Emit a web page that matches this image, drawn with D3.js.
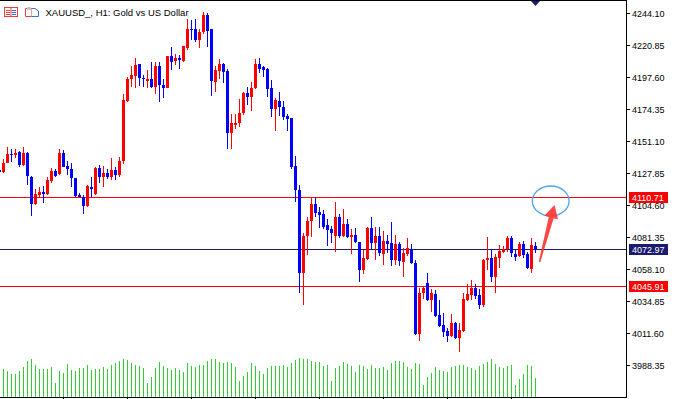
<!DOCTYPE html>
<html><head><meta charset="utf-8">
<script src="https://cdn.jsdelivr.net/npm/d3@7"></script>
<style>html,body{margin:0;padding:0;background:#fff;overflow:hidden}</style>
</head><body>
<svg id="c" width="679" height="399"></svg>
<script>
// ---------- data ----------
const chartTitle = "XAUUSD_, H1:  Gold vs US Dollar";
const firstBar = -1; // first (partially visible) bar index
const opens = [4130.1,4128.7,4135.4,4141.8,4141.3,4143.2,4134.0,4142.7,4125.3,4105.4,4111.9,4114.1,4112.7,4122.3,4129.2,4127.2,4142.3,4133.0,4131.1,4124.1,4111.7,4110.7,4103.9,4118.0,4112.7,4131.4,4124.8,4128.2,4125.3,4130.1,4126.7,4136.7,4180.3,4196.3,4198.5,4207.2,4197.1,4194.9,4196.3,4190.5,4205.8,4192.0,4189.8,4213.1,4209.4,4211.6,4209.4,4218.9,4232.7,4232.7,4224.7,4230.5,4242.9,4232.7,4194.1,4202.1,4207.2,4202.1,4157.0,4162.9,4164.3,4171.6,4186.1,4183.2,4189.8,4207.2,4205.1,4203.6,4189.8,4174.5,4180.3,4176.0,4169.4,4168.0,4133.0,4115.6,4055.2,4082.1,4093.0,4105.4,4099.6,4098.1,4090.1,4087.2,4082.1,4095.9,4082.1,4090.8,4081.4,4082.8,4077.7,4057.4,4065.4,4087.9,4077.0,4082.1,4069.0,4078.5,4077.0,4064.6,4076.3,4063.2,4069.0,4072.7,4062.5,4010.8,4040.6,4047.9,4035.6,4039.9,4024.6,4017.4,4013.0,4009.4,4018.8,4007.9,4013.0,4035.6,4039.2,4044.3,4039.2,4031.9,4064.6,4066.1,4052.3,4066.1,4070.5,4072.7,4080.7,4069.0,4067.6,4076.3,4069.0,4058.1,4074.8];
const highs = [4131.6,4137.9,4147.1,4145.4,4145.2,4143.7,4146.6,4143.0,4125.8,4116.1,4117.5,4118.5,4125.3,4131.4,4130.6,4145.2,4144.7,4136.9,4135.0,4124.6,4113.6,4111.7,4119.2,4125.3,4132.1,4133.8,4133.0,4130.6,4138.6,4132.5,4139.4,4185.4,4198.0,4205.8,4211.6,4207.6,4199.2,4202.9,4208.7,4208.7,4208.7,4196.3,4213.1,4219.6,4214.5,4213.8,4220.3,4240.0,4239.2,4240.0,4232.7,4245.1,4244.3,4233.0,4205.8,4210.9,4208.0,4203.6,4170.9,4170.9,4181.8,4186.9,4190.5,4194.1,4210.9,4211.6,4205.8,4204.0,4195.6,4182.5,4186.9,4180.3,4170.9,4168.3,4140.3,4119.2,4084.3,4095.9,4110.5,4110.5,4103.2,4101.0,4094.5,4089.4,4106.8,4098.1,4101.8,4094.5,4087.2,4087.9,4078.0,4071.9,4088.7,4095.9,4088.7,4088.7,4085.8,4082.8,4092.3,4082.8,4077.7,4073.4,4080.7,4076.3,4064.6,4044.3,4045.7,4055.2,4043.6,4042.8,4035.6,4026.1,4015.2,4025.4,4019.5,4018.8,4040.6,4047.2,4050.1,4047.2,4043.6,4065.4,4081.4,4072.7,4069.0,4075.6,4074.8,4082.1,4082.1,4071.9,4077.7,4078.5,4070.5,4080.7,4077.7];
const lows = [4127.2,4127.7,4134.9,4136.2,4138.6,4132.5,4133.0,4119.2,4096.7,4104.4,4110.7,4106.3,4111.7,4120.5,4125.3,4126.5,4132.1,4126.5,4117.5,4110.7,4110.2,4098.1,4103.0,4110.7,4112.2,4120.5,4118.0,4123.4,4122.9,4122.9,4125.3,4134.5,4179.4,4190.5,4189.8,4191.2,4190.5,4189.8,4189.8,4185.4,4179.6,4182.5,4189.6,4202.9,4206.5,4203.6,4208.7,4217.4,4224.7,4223.2,4218.9,4229.1,4219.6,4184.0,4186.9,4196.3,4193.4,4145.4,4145.4,4160.0,4161.4,4170.1,4177.4,4173.1,4189.1,4200.7,4197.8,4183.2,4168.7,4158.5,4169.4,4166.5,4158.5,4130.9,4106.8,4040.6,4031.9,4068.3,4081.4,4095.9,4087.9,4087.2,4074.8,4077.0,4070.5,4080.7,4081.4,4080.7,4069.0,4077.0,4048.6,4054.5,4064.6,4072.7,4064.6,4067.6,4061.0,4069.7,4060.3,4061.0,4060.3,4052.3,4067.6,4061.7,4010.1,4005.7,4036.3,4034.8,4026.8,4023.2,4015.9,4008.6,4005.0,4008.6,4007.2,3997.7,4012.3,4034.8,4035.6,4036.3,4029.0,4030.5,4057.4,4048.6,4040.6,4058.8,4069.7,4070.5,4066.8,4063.9,4066.8,4066.1,4058.1,4055.2,4069.7];
const closes = [4128.7,4135.4,4141.8,4141.3,4142.7,4134.0,4142.7,4125.8,4105.4,4112.7,4114.3,4112.7,4122.9,4129.6,4125.8,4142.7,4132.5,4131.1,4124.1,4111.2,4110.7,4103.9,4118.5,4116.5,4131.4,4124.8,4127.7,4125.3,4130.1,4126.7,4136.7,4181.1,4196.3,4199.2,4206.5,4197.1,4196.3,4196.3,4190.5,4205.8,4192.0,4189.8,4213.1,4208.7,4211.6,4210.2,4220.3,4232.7,4232.0,4224.7,4230.5,4242.9,4231.2,4194.9,4202.9,4207.2,4201.4,4157.0,4164.3,4164.3,4171.6,4186.1,4183.2,4189.8,4207.2,4203.6,4202.9,4189.1,4174.5,4181.1,4176.0,4168.7,4167.2,4132.3,4115.6,4055.2,4082.1,4093.0,4105.4,4098.8,4097.4,4088.7,4086.5,4084.3,4095.9,4082.1,4090.8,4081.4,4082.8,4077.7,4057.4,4066.1,4087.9,4077.0,4082.1,4069.7,4078.5,4076.3,4064.6,4076.3,4063.9,4069.7,4073.4,4062.5,4010.8,4040.6,4044.3,4035.6,4040.6,4023.9,4016.6,4012.3,4009.4,4018.8,4007.9,4013.7,4036.3,4039.9,4044.3,4038.5,4031.9,4064.6,4066.1,4052.3,4066.8,4071.2,4072.7,4080.7,4069.7,4066.8,4076.3,4068.3,4058.8,4075.6,4073.0];
const volumes = [2500,2550,2310,2100,2100,2370,2730,3210,3390,2910,2550,2550,2550,2730,1290,2370,2190,3000,2460,2370,2640,2640,2910,2460,2550,2550,2730,2550,2910,3090,3270,3450,3360,3090,2910,2820,2640,1290,1830,2640,3180,2820,2640,2460,2640,2460,2280,3090,2820,2730,2910,2910,3270,3450,3450,3180,3090,3180,3090,2730,1470,1920,2280,3090,2820,2370,2100,2640,2820,2820,2820,2910,2730,3090,3360,3540,3450,3450,3270,3180,3180,2820,2910,1470,2640,2820,3180,3000,2820,2280,2910,2820,2550,2910,2640,2640,2730,2460,3090,3270,3270,3180,2730,2550,3090,3000,1110,1830,2190,2730,2460,2370,2280,2730,2820,2910,2910,2730,2640,2460,2820,3000,3180,3450,3000,2730,2640,2820,2910,1110,1650,2100,2910,2820,1740];
const priceTicks = [4244.10,4220.85,4197.60,4174.35,4151.10,4127.85,4104.60,4081.35,4058.10,4034.85,4011.60,3988.35];
const levelPrices = [4110.71, 4072.97, 4045.91];
const timeTickBars = [-1,15,31,47,63,79,95,111,127];
const ellipseNote = {bar:136.8, price:4107.6, rBars:4.6, rPrice:10.9};
const arrowNote = {fromBar:134, fromPrice:4063.2, toBar:137.75, toPrice:4104.7};

// ---------- styles ----------
const bullColor = "#ff0000", bearColor = "#0000ff", volColor = "#32cd32";
const levelColors = ["#ff0000", "#1a1a6e", "#ff0000"];
const plotW = 626, plotB = 397;

const bars = opens.map((o,k)=>({i:firstBar+k,o,h:highs[k],l:lows[k],c:closes[k],v:volumes[k]}));

const svg = d3.select("#c");
svg.append("rect").attr("width",679).attr("height",399).attr("fill","#fff");

const x = d3.scaleLinear().domain([0,133]).range([3.5,535.5]);
const y = d3.scaleLinear().domain([3965.0,4253.8]).range([plotB,0]);
const yv = d3.scaleLinear().domain([0,9000]).range([plotB,297]);

const plot = svg.append("g");
// volumes
plot.selectAll("rect.vol").data(bars).join("rect").attr("class","vol")
  .attr("x",d=>x(d.i)-0.5).attr("width",1)
  .attr("y",d=>Math.round(yv(d.v))).attr("height",d=>plotB-Math.round(yv(d.v)))
  .attr("fill",volColor);

// level lines
plot.selectAll("line.lvl").data(levelPrices).join("line").attr("class","lvl")
  .attr("x1",0).attr("x2",plotW).attr("y1",d=>Math.round(y(d))+0.5).attr("y2",d=>Math.round(y(d))+0.5)
  .attr("stroke",(d,k)=>levelColors[k]).attr("stroke-width",1);

// candles
const cg = plot.selectAll("g.cdl").data(bars).join("g").attr("class","cdl")
  .attr("fill",d=>d.c>=d.o?bullColor:bearColor);
cg.append("rect").attr("x",d=>x(d.i)-0.5).attr("width",1)
  .attr("y",d=>Math.round(y(d.h))).attr("height",d=>Math.max(1,Math.round(y(d.l))-Math.round(y(d.h))));
cg.append("rect").attr("x",d=>x(d.i)-1.5).attr("width",3)
  .attr("y",d=>Math.round(y(Math.max(d.o,d.c))))
  .attr("height",d=>Math.max(1,Math.round(y(Math.min(d.o,d.c)))-Math.round(y(Math.max(d.o,d.c)))));

// frame
svg.append("line").attr("x1",0).attr("x2",plotW+1).attr("y1",0.5).attr("y2",0.5).attr("stroke","#000");
svg.append("line").attr("x1",0).attr("x2",plotW+1).attr("y1",plotB+0.5).attr("y2",plotB+0.5).attr("stroke","#000");
svg.append("line").attr("x1",plotW+0.5).attr("x2",plotW+0.5).attr("y1",0).attr("y2",plotB+1).attr("stroke","#000");

// time ticks
svg.selectAll("line.tt").data(timeTickBars).join("line").attr("class","tt")
  .attr("x1",d=>x(d)).attr("x2",d=>x(d)).attr("y1",plotB).attr("y2",399+2).attr("stroke","#000");

// price axis
const font = "'Liberation Sans', Arial, sans-serif";
const ax = svg.append("g");
ax.selectAll("line").data(priceTicks).join("line")
  .attr("x1",plotW).attr("x2",plotW+4).attr("y1",d=>Math.round(y(d))+0.5).attr("y2",d=>Math.round(y(d))+0.5).attr("stroke","#000");
ax.selectAll("text").data(priceTicks).join("text")
  .attr("x",632).attr("y",d=>Math.round(y(d))+4)
  .attr("font-family",font).attr("font-size","9px").attr("fill","#000")
  .text(d=>d.toFixed(2));

// level labels
const lg = svg.selectAll("g.lbl").data(levelPrices).join("g").attr("class","lbl");
lg.append("rect").attr("x",629).attr("width",39).attr("y",d=>Math.round(y(d))-5).attr("height",11)
  .attr("fill",(d,k)=>levelColors[k]);
lg.append("text").attr("x",632).attr("y",d=>Math.round(y(d))+4)
  .attr("font-family",font).attr("font-size","9px").attr("fill","#fff").text(d=>d.toFixed(2));

// title + icons
svg.append("text").attr("x",45.5).attr("y",16).attr("font-family",font).attr("font-size","9.5px")
  .attr("fill","#000").text(chartTitle);
const ic = svg.append("g");
ic.append("rect").attr("x",4.5).attr("y",7.5).attr("width",13).attr("height",9).attr("fill","#fff").attr("stroke","#e8413b");
ic.append("line").attr("x1",11).attr("x2",11).attr("y1",7.5).attr("y2",16.5).attr("stroke","#e8413b");
[10,12,14].forEach(v=>{
  ic.append("line").attr("x1",6).attr("x2",10).attr("y1",v+0.5).attr("y2",v+0.5).attr("stroke","#e8413b");
  ic.append("line").attr("x1",12).attr("x2",16).attr("y1",v+0.5).attr("y2",v+0.5).attr("stroke","#3a6fd8");
});
ic.append("path").attr("d","M25.5,8.5 H31.5 V16.5 H25.5 Z").attr("fill","#fff").attr("stroke","#e8413b");
ic.append("path").attr("d","M31.5,8.5 H35 L38.5,11 V16.5 H31.5").attr("fill","#fff").attr("stroke","#3a6fd8");
ic.append("rect").attr("x",27).attr("y",7).attr("width",4).attr("height",3).attr("fill","#c8c8c8");

// shift marker triangle
const tx = x(133);
svg.append("path").attr("d",`M${tx-4.5},1 L${tx+4.5},1 L${tx},6 Z`).attr("fill","#1a1a6e");

// annotations
const ex = x(ellipseNote.bar), ey = y(ellipseNote.price);
svg.append("ellipse").attr("cx",ex).attr("cy",ey)
  .attr("rx",x(ellipseNote.bar+ellipseNote.rBars)-ex).attr("ry",y(ellipseNote.price-ellipseNote.rPrice)-ey)
  .attr("fill","none").attr("stroke","#47a6ec").attr("stroke-width",1.3);
const T=[x(arrowNote.fromBar),y(arrowNote.fromPrice)], P=[x(arrowNote.toBar),y(arrowNote.toPrice)];
const len=Math.hypot(P[0]-T[0],P[1]-T[1]); const u=[(P[0]-T[0])/len,(P[1]-T[1])/len]; const n=[-u[1],u[0]];
const hl=13, hw=7, sw=2.5, tw=0.8; const B=[P[0]-u[0]*hl,P[1]-u[1]*hl];
const pt=(b,s)=>[b[0]+n[0]*s,b[1]+n[1]*s];
const poly=[pt(T,tw),pt(B,sw),pt(B,hw),P,pt(B,-hw),pt(B,-sw),pt(T,-tw)];
svg.append("path").attr("d","M"+poly.map(p=>p.join(",")).join("L")+"Z").attr("fill","#ff3535").attr("opacity",0.92);
</script>
</body></html>
